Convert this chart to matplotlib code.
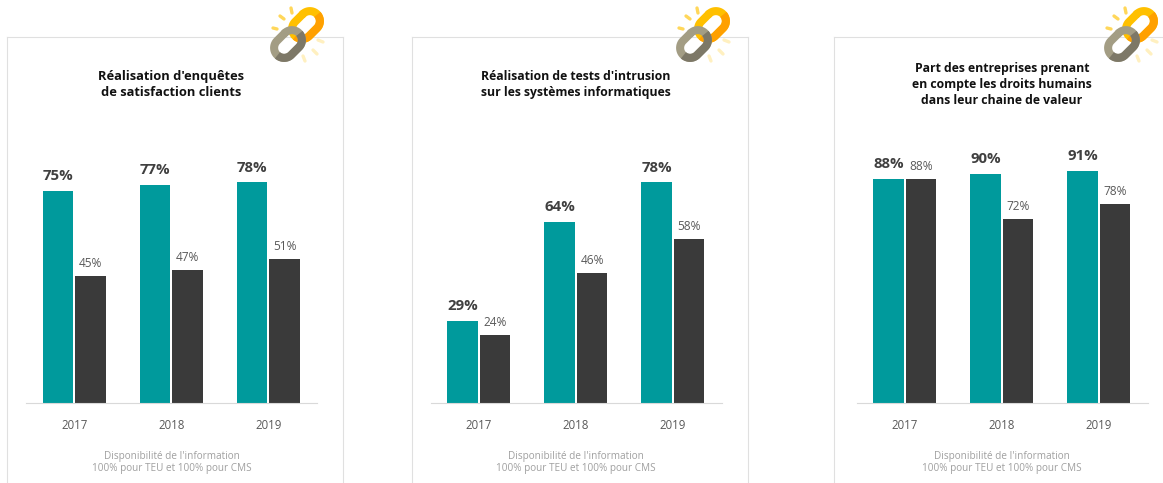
import numpy as np
import matplotlib
matplotlib.use("Agg")
import matplotlib.pyplot as plt

plt.rcParams["font.family"] = ["Open Sans", "DejaVu Sans"]

W, H = 1163, 483

years = ["2017", "2018", "2019"]

title_1 = "Réalisation d'enquêtes\nde satisfaction clients"
teu_1 = [75, 77, 78]
cms_1 = [45, 47, 51]

title_2 = "Réalisation de tests d'intrusion\nsur les systèmes informatiques"
teu_2 = [29, 64, 78]
cms_2 = [24, 46, 58]

title_3 = "Part des entreprises prenant\nen compte les droits humains\ndans leur chaine de valeur"
teu_3 = [88, 90, 91]
cms_3 = [88, 72, 78]

note = "Disponibilité de l'information\n100% pour TEU et 100% pour CMS"

TEAL = "#009a9c"
DARK = "#3a3a3a"

fig = plt.figure(figsize=(W / 100, H / 100), dpi=100)

# overlay in pixel coordinates for frames, notes and the icons
bg = fig.add_axes([0, 0, 1, 1])
bg.set_xlim(0, W)
bg.set_ylim(H, 0)
bg.axis("off")


def link(cx, cy, c1, c2, z):
    # chain link drawn as a stadium centre line, two tones along its long side
    a, r = 5.5, 10
    t = np.linspace(-np.pi / 2, np.pi / 2, 30)
    right = np.column_stack([a + r * np.cos(t), r * np.sin(t)])
    left = np.column_stack([-a - r * np.cos(t), -r * np.sin(t)])
    loop = np.vstack([right, left, right[:1]])
    u = (loop[:, 0] + loop[:, 1]) * 0.707
    v = (loop[:, 1] - loop[:, 0]) * 0.707
    bg.plot(cx + u, cy + v, color=c1, lw=5.8, zorder=z, solid_capstyle="round")
    lower = (u + v) > 0
    idx = np.where(lower)[0]
    order = np.argsort(np.arctan2(v[idx] + 0.01, u[idx]))
    bg.plot(cx + u[idx][order], cy + v[idx][order], color=c2, lw=5.8, zorder=z, solid_capstyle="butt")


def icon(x0):
    rays = [(-19, 28, -15, 29, "#ffd75a"), (-12, 16, -8, 19, "#ffd75a"), (-1, 8, 0, 13, "#ffd75a"),
            (26, 40, 31, 42, "#fff0c0"), (21, 50, 25, 54, "#fff0c0"), (11, 56, 13, 61, "#fff0c0")]
    for xa, ya, xb, yb, c in rays:
        bg.plot([x0 + xa, x0 + xb], [ya, yb], color=c, lw=2.4, solid_capstyle="round", zorder=5)
    link(x0 + 14, 25, "#ffc000", "#ffa000", 6)
    link(x0 - 4, 44, "#a39d84", "#7d7867", 7)


def panel(x0, x1, center, px_per_unit, title, teu, cms, title_size=8.8):
    line = dict(color="#e0e0e0", lw=0.8)
    bg.plot([x0, x0], [H, 37], **line)
    bg.plot([x0, x1], [37, 37], **line)
    bg.plot([x1, x1], [37, H], **line)

    left = center - 145.5
    ax = fig.add_axes([left / W, (H - 403) / H, 291 / W, 366 / H])
    ax.patch.set_alpha(0)
    ax.set_xlim(-0.5, 2.5)
    ax.set_ylim(0, 366 / px_per_unit)
    x = np.arange(len(years))
    ax.bar(x - 0.17, teu, 0.31, color=TEAL)
    ax.bar(x + 0.165, cms, 0.315, color=DARK)
    for i in x:
        ax.annotate(f"{teu[i]}%", (i - 0.17, teu[i]), xytext=(0, 10.6), textcoords="offset points",
                    ha="center", va="center", fontsize=10.8, fontweight="bold", color="#404040")
        ax.annotate(f"{cms[i]}%", (i + 0.165, cms[i]), xytext=(0, 9), textcoords="offset points",
                    ha="center", va="center", fontsize=8.6, color="#595959")
    ax.set_xticks(x, years)
    ax.tick_params(axis="x", length=0, pad=11.5, labelsize=8.3, labelcolor="#595959")
    ax.set_yticks([])
    for s in ["top", "left", "right"]:
        ax.spines[s].set_visible(False)
    ax.spines["bottom"].set_color("#d9d9d9")

    bg.text(center, 84.5, title, ha="center", va="center", fontsize=title_size,
            fontweight="bold", color="#111111", linespacing=1.3)
    bg.text(center, 462.5, note, ha="center", va="center", fontsize=7.2,
            color="#a0a0a0", linespacing=1.1)


panel(7, 343, 171.5, 2.83, title_1, teu_1, cms_1, title_size=9.3)
panel(412, 748, 576, 2.83, title_2, teu_2, cms_2)
panel(834, 1170, 1002, 2.55, title_3, teu_3, cms_3)

icon(292)
icon(698)
icon(1126)

fig.savefig("out.png", dpi=100)
